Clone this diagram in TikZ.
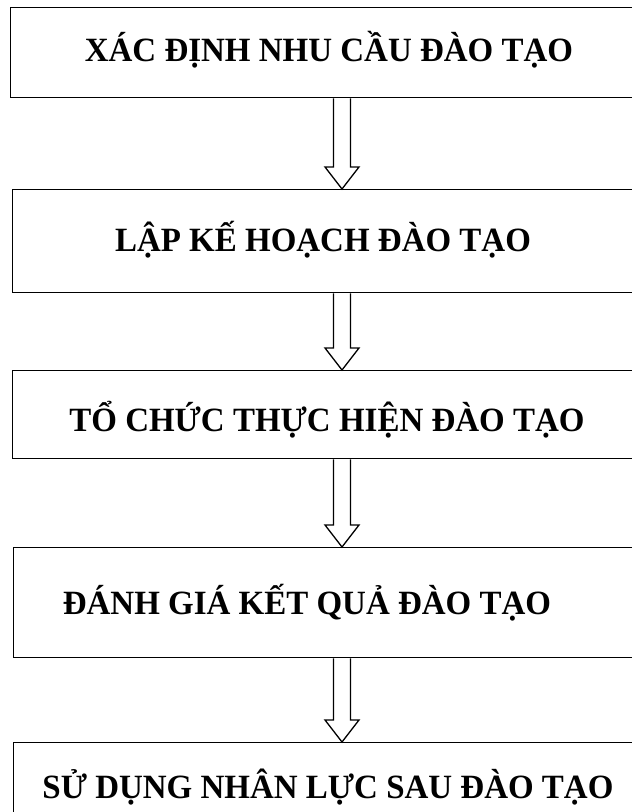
\documentclass[tikz,border=0pt]{standalone}
\usepackage{fontspec}
\setmainfont[FakeStretch=0.97]{Liberation Serif}
\usetikzlibrary{calc}
\tikzset{
  stagebox/.style={draw=black, line width=1.4pt, fill=none, rectangle, anchor=north west, minimum width=640pt, inner sep=0pt},
  stagetext/.style={anchor=base, inner sep=0pt, font=\fontsize{34}{37}\selectfont\bfseries},
  blockarr/.style={draw=black, line width=1.3pt, fill=white, line join=miter}
}
\newcommand\blockarrow[2]{%
  \draw[blockarr] let \p1=(#1.south), \p2=(#2.north) in
    (333.5pt,\y1) -- (333.5pt,\y2+22pt) -- (325pt,\y2+22pt) -- (342pt,\y2)
    -- (359pt,\y2+22pt) -- (350.5pt,\y2+22pt) -- (350.5pt,\y1);}
\begin{document}
\begin{tikzpicture}[x=1pt,y=-1pt]
\useasboundingbox (0,0) rectangle (632,812);
\clip (0,0) rectangle (632,812);
\fill[white] (0,0) rectangle (632,812);
\node[stagebox, minimum height=90pt] (b1) at (10,7) {};
\node[stagebox, minimum height=103pt] (b2) at (12,189) {};
\node[stagebox, minimum height=88pt] (b3) at (12,370) {};
\node[stagebox, minimum height=110pt] (b4) at (13,547) {};
\node[stagebox, minimum height=100pt] (b5) at (13,742) {};
\node[stagetext] (t1) at (329,61) {XÁC ĐỊNH NHU CẦU ĐÀO TẠO};
\node[stagetext] (t2) at (323,251) {LẬP KẾ HOẠCH ĐÀO TẠO};
\node[stagetext] (t3) at (327,431) {TỔ CHỨC THỰC HIỆN ĐÀO TẠO};
\node[stagetext] (t4) at (307,614) {ĐÁNH GIÁ KẾT QUẢ ĐÀO TẠO};
\node[stagetext] (t5) at (328,798) {SỬ DỤNG NHÂN LỰC SAU ĐÀO TẠO};
\blockarrow{b1}{b2}
\blockarrow{b2}{b3}
\blockarrow{b3}{b4}
\blockarrow{b4}{b5}
\end{tikzpicture}
\end{document}
